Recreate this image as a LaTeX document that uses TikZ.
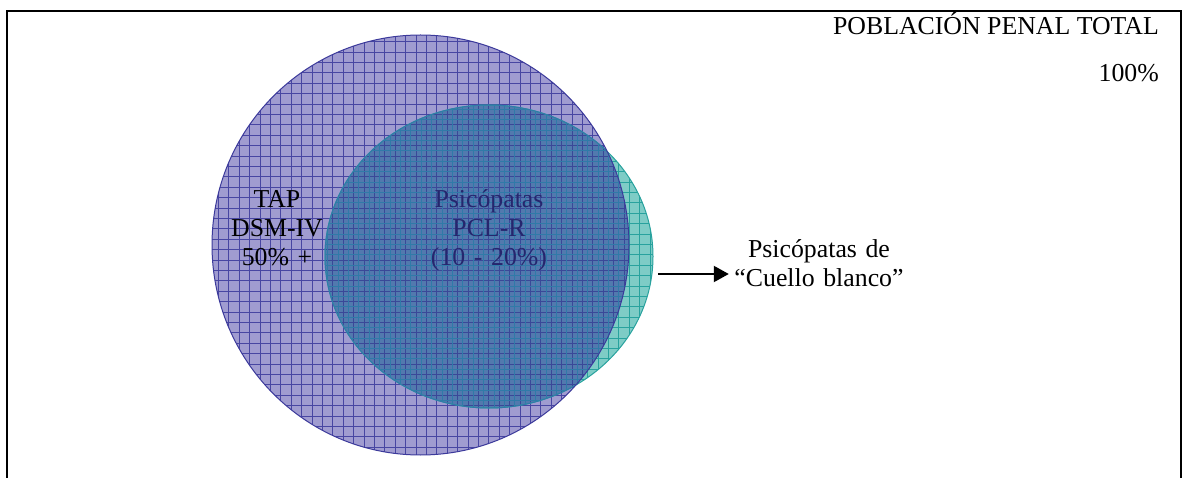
\documentclass[tikz,border=0pt]{standalone}
\usepackage{fontspec}
\setmainfont{Liberation Serif}
\usetikzlibrary{arrows.meta}
\definecolor{lav}{RGB}{160,156,208}
\definecolor{lavgrid}{RGB}{72,70,162}
\definecolor{lavedge}{RGB}{60,58,155}
\definecolor{tealfill}{RGB}{126,204,198}
\definecolor{tealgrid}{RGB}{40,162,158}
\definecolor{ovfill}{RGB}{82,121,174}
\definecolor{ovnavy}{RGB}{58,72,152}
\definecolor{ovteal}{RGB}{48,122,168}
\definecolor{navytext}{RGB}{38,38,110}
\begin{document}
\begin{tikzpicture}[x=1pt,y=1pt,
  lbl/.style={font=\fontsize{25.8}{29}\selectfont, inner sep=0pt},
  blk/.style={lbl, text width=180pt, align=center, anchor=base},
  gridln/.style={line width=0.7pt, step=10.4pt},
  frameline/.style={line width=2.2pt, black},
  arrowln/.style={line width=2pt, -{Triangle[length=15pt,width=16pt]}}]
\useasboundingbox (0,0) rectangle (1186,-478);
% frame (open at the bottom)
\draw[frameline] (7,-478) -- (7,-11) -- (1181,-11) -- (1181,-478);
\coordinate (cB) at (420.5,-245);
\coordinate (cT) at (489,-256.5);
% big circle (TAP)
\fill[lav] (cB) ellipse [x radius=208.5, y radius=210];
\begin{scope}
  \clip (cB) ellipse [x radius=208.5, y radius=210];
  \draw[lavgrid, gridln] (200,-20) grid (640,-470);
\end{scope}
% teal circle (psychopaths)
\begin{scope}
  \clip (cT) ellipse [x radius=164, y radius=151.5];
  \fill[tealfill] (300,-90) rectangle (670,-420);
  \draw[tealgrid, gridln, shift={(5.2pt,5.2pt)}] (300,-90) grid (670,-420);
\end{scope}
% overlap
\begin{scope}
  \clip (cB) ellipse [x radius=208.5, y radius=210];
  \clip (cT) ellipse [x radius=164, y radius=151.5];
  \fill[ovfill] (300,-90) rectangle (670,-420);
  \draw[ovnavy, gridln] (200,-20) grid (640,-470);
  \draw[ovteal, gridln, shift={(5.2pt,5.2pt)}] (300,-90) grid (670,-420);
\end{scope}
% outlines
\draw[tealgrid, line width=1pt] (cT) ellipse [x radius=164, y radius=151.5];
\begin{scope}
  \clip (cB) ellipse [x radius=208.5, y radius=210];
  \draw[ovteal, line width=1pt] (cT) ellipse [x radius=164, y radius=151.5];
\end{scope}
\draw[lavedge, line width=1pt] (cB) ellipse [x radius=208.5, y radius=210];
% labels
\node[lbl, anchor=base east] (pob) at (1159,-35) {POBLACIÓN PENAL TOTAL};
\node[lbl, anchor=base east] (cien) at (1159,-82) {100\%};
\node[blk] (tap) at (277,-208) {TAP\\DSM-IV\\50\% +};
\node[blk, text=navytext] (psi) at (489,-208) {Psicópatas\\PCL-R\\(10 - 20\%)};
\node[blk] (cb) at (819,-258) {Psicópatas de\\“Cuello blanco”};
\coordinate (astart) at (658,-274);
\draw[arrowln] (astart) -- (cb.west |- astart);
\end{tikzpicture}
\end{document}
